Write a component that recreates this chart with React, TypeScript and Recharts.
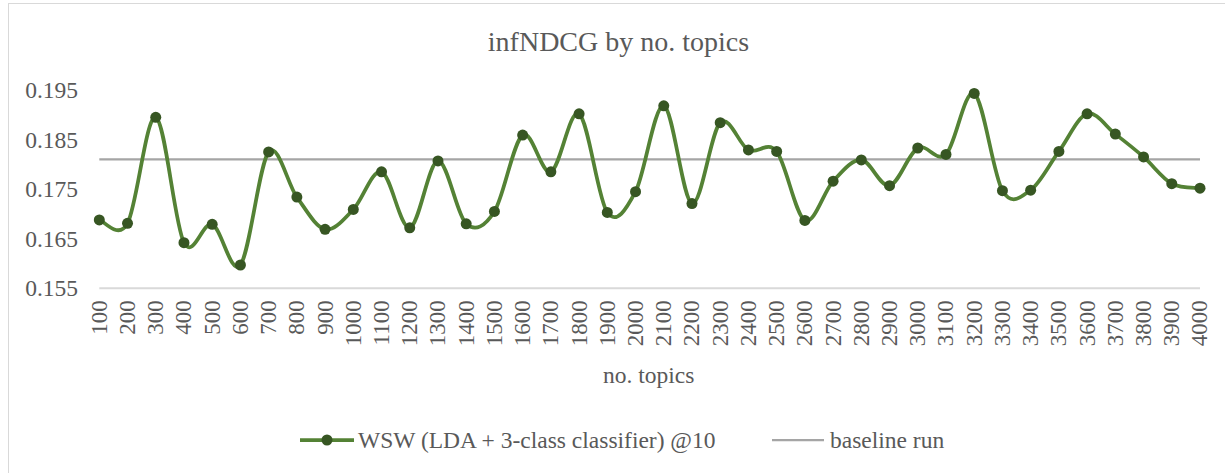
import { LineChart, Line, XAxis, YAxis, Legend } from "recharts";

const topics = [
  "100", "200", "300", "400", "500", "600", "700", "800", "900", "1000",
  "1100", "1200", "1300", "1400", "1500", "1600", "1700", "1800", "1900", "2000",
  "2100", "2200", "2300", "2400", "2500", "2600", "2700", "2800", "2900", "3000",
  "3100", "3200", "3300", "3400", "3500", "3600", "3700", "3800", "3900", "4000",
];

const wsw = [
  0.1688, 0.1681, 0.1895, 0.1642, 0.1679, 0.1597, 0.1825, 0.1734, 0.1669, 0.1709,
  0.1785, 0.1672, 0.1807, 0.168, 0.1705, 0.1859, 0.1785, 0.1902, 0.1703, 0.1745,
  0.1918, 0.1721, 0.1884, 0.1829, 0.1826, 0.1687, 0.1766, 0.1809, 0.1757, 0.1833,
  0.182, 0.1943, 0.1747, 0.1748, 0.1826, 0.1902, 0.1861, 0.1815, 0.1761, 0.1752,
];

const baselineRun = 0.181;

const yTicks = [0.155, 0.165, 0.175, 0.185, 0.195];

const rows = topics.map((t, i) => ({ topics: t, wsw: wsw[i], baseline: baselineRun }));

const FONT =
  "'Liberation Serif', 'Times New Roman', Times, Tinos, 'Noto Serif', 'DejaVu Serif', FreeSerif, 'Nimbus Roman', serif";
const TEXT = "#595959";
const GREEN = "#548235";
const DARK_GREEN = "#375623";
const GRAY = "#a5a5a5";

// excel-ish smoothed line (catmull-rom through the points)
const smooth = (ctx: any) => {
  let pts: number[][] = [];
  return {
    areaStart() {},
    areaEnd() {},
    lineStart() {
      pts = [];
    },
    point(x: number, y: number) {
      pts.push([+x, +y]);
    },
    lineEnd() {
      if (!pts.length) return;
      ctx.moveTo(pts[0][0], pts[0][1]);
      for (let i = 0; i < pts.length - 1; i++) {
        const p0 = pts[Math.max(i - 1, 0)];
        const p1 = pts[i];
        const p2 = pts[i + 1];
        const p3 = pts[Math.min(i + 2, pts.length - 1)];
        ctx.bezierCurveTo(
          p1[0] + (p2[0] - p0[0]) / 6,
          p1[1] + (p2[1] - p0[1]) / 6,
          p2[0] - (p3[0] - p1[0]) / 6,
          p2[1] - (p3[1] - p1[1]) / 6,
          p2[0],
          p2[1]
        );
      }
    },
  };
};

const XTick = (props: any) => {
  const { x, y, payload } = props;
  return (
    <text
      x={x}
      y={y}
      transform={`rotate(-90, ${x}, ${y})`}
      textAnchor="end"
      dominantBaseline="central"
      fill={TEXT}
      fontSize={23}
      style={{ fontFamily: FONT }}
    >
      {payload.value}
    </text>
  );
};

const YTick = (props: any) => {
  const { y, payload } = props;
  return (
    <text x={78} y={y} textAnchor="end" dominantBaseline="central" fill={TEXT} fontSize={23.5} style={{ fontFamily: FONT }}>
      {payload.value.toFixed(3)}
    </text>
  );
};

const LegendBox = () => (
  <div style={{ position: "relative", height: 30, fontFamily: FONT, fontSize: 23.5, color: TEXT }}>
    <svg width={1225} height={30} style={{ position: "absolute", left: 0, top: 0 }}>
      <line x1={300} x2={354} y1={15} y2={15} stroke={GREEN} strokeWidth={3.75} />
      <circle cx={327} cy={15} r={5.5} fill={DARK_GREEN} />
      <line x1={772} x2={824} y1={15} y2={15} stroke={GRAY} strokeWidth={2.25} />
    </svg>
    <span style={{ position: "absolute", left: 358, top: 0, lineHeight: "30px", whiteSpace: "nowrap" }}>
      WSW (LDA + 3-class classifier) @10
    </span>
    <span style={{ position: "absolute", left: 830, top: 0, lineHeight: "30px", whiteSpace: "nowrap" }}>
      baseline run
    </span>
  </div>
);

const App = () => {
  return (
    <div
      style={{
        position: "fixed",
        left: 0,
        top: 0,
        width: 1225,
        height: 473,
        overflow: "hidden",
        background: "#fff",
        fontFamily: FONT,
      }}
    >
      <div
        style={{
          position: "absolute",
          left: 8,
          top: 3,
          width: 1240,
          height: 490,
          border: "1.5px solid #d9d9d9",
        }}
      />
      <div
        style={{
          position: "absolute",
          left: 0,
          top: 24,
          width: 1237,
          textAlign: "center",
          fontSize: 28,
          color: TEXT,
          lineHeight: "36px",
        }}
      >
        infNDCG by no. topics
      </div>
      <div
        style={{
          position: "absolute",
          left: 603,
          top: 360,
          fontSize: 23.5,
          color: TEXT,
          lineHeight: "30px",
          whiteSpace: "nowrap",
        }}
      >
        no. topics
      </div>
      <div style={{ position: "absolute", left: 0, top: 0 }}>
        <LineChart width={1225} height={473} data={rows} margin={{ top: 90, right: 25, bottom: 124.7, left: 0 }}>
          <XAxis
            dataKey="topics"
            interval={0}
            height={60}
            tick={<XTick />}
            tickLine={false}
            axisLine={{ stroke: "#d9d9d9", strokeWidth: 2 }}
            padding={{ left: 0, right: 0 }}
            tickMargin={0}
            tickSize={12}
          />
          <YAxis
            type="number"
            domain={[0.155, 0.195]}
            ticks={yTicks}
            width={99.3}
            tick={<YTick />}
            tickLine={false}
            axisLine={false}
          />
          <Line
            dataKey="baseline"
            type="linear"
            stroke={GRAY}
            strokeWidth={2.25}
            dot={false}
            activeDot={false}
            isAnimationActive={false}
          />
          <Line
            dataKey="wsw"
            type={smooth as any}
            stroke={GREEN}
            strokeWidth={3.75}
            dot={{ r: 5.5, fill: DARK_GREEN, stroke: DARK_GREEN, strokeWidth: 0 }}
            activeDot={false}
            isAnimationActive={false}
          />
          <Legend
            layout="horizontal"
            verticalAlign="middle"
            align="center"
            content={<LegendBox />}
            wrapperStyle={{ position: "absolute", left: 0, top: 425, width: 1225 }}
          />
        </LineChart>
      </div>
    </div>
  );
};

export default App;
